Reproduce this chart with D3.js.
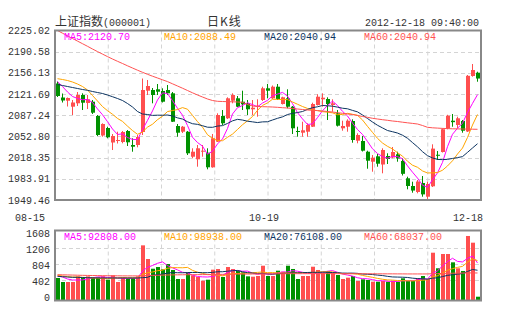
<!DOCTYPE html>
<html>
<head>
<meta charset="utf-8">
<script src="https://cdn.jsdelivr.net/npm/d3@7"></script>
<style>
  html, body { margin: 0; padding: 0; background: #fff; }
  svg { display: block; }
  text { font-family: "Liberation Mono", "DejaVu Sans Mono", monospace; font-size: 10px; fill: #333; }
</style>
</head>
<body>
<svg id="chart" width="505" height="330"></svg>
<script>
// ---- Daily K-line data, 2012-08-15 .. 2012-12-18 (上证指数) ----
const open = [2138.85,2116.09,2110.89,2101.14,2106.67,2120.16,2107.15,2109.27,2086.02,2054.32,
  2066.51,2042.94,2045.38,2043.75,2061.63,2038.87,2038.87,2060.01,2127.15,2128.29,
  2129.42,2126.66,2128.29,2122.92,2069.76,2060.50,2060.50,2019.85,2015.63,2027.98,
  2026.36,2002.62,2044.24,2086.02,2082.28,2110.89,2114.79,2109.27,2106.67,2096.91,
  2101.14,2112.03,2131.05,2114.79,2133.65,2105.53,2114.79,2101.14,2061.63,2058.87,
  2060.50,2068.62,2103.90,2113.17,2113.66,2103.90,2090.41,2066.02,2068.62,2077.89,
  2045.86,2045.38,2027.98,2011.72,2020.50,2007.17,2020.99,2018.55,2023.75,2012.86,
  1984.74,1972.22,1962.47,1977.10,1954.82,1971.73,2023.00,2027.49,2066.02,2078.38,
  2071.39,2077.89,2060.82,2151.05,2156.41];
const close = [2118.53,2111.22,2115.28,2107.97,2120.16,2107.64,2113.17,2091.38,2055.13,2073.01,
  2051.39,2053.50,2047.00,2060.01,2043.26,2036.11,2051.88,2128.29,2134.79,2120.16,
  2125.52,2109.27,2122.92,2076.75,2058.87,2068.62,2025.38,2027.98,2033.51,2029.60,
  2002.62,2049.77,2087.64,2074.15,2114.79,2120.16,2101.14,2105.04,2096.91,2099.51,
  2102.76,2131.05,2127.15,2133.65,2113.66,2116.42,2101.14,2066.02,2060.01,2062.77,
  2071.39,2105.53,2117.39,2115.77,2105.53,2106.67,2070.25,2069.76,2078.38,2047.00,
  2055.13,2029.60,2013.35,2018.23,2008.47,2030.74,2016.11,2027.49,2016.93,1992.00,
  1972.22,1964.80,1979.54,1958.60,1975.47,2033.00,2021.40,2064.50,2086.50,2076.00,
  2082.28,2062.12,2151.37,2160.80,2146.93];
const high = [2142.11,2122.60,2116.09,2112.03,2125.04,2122.92,2120.16,2112.03,2087.64,2074.15,
  2068.62,2056.76,2060.50,2061.63,2063.26,2049.77,2055.13,2146.98,2144.54,2131.54,
  2138.04,2131.05,2136.42,2125.04,2073.01,2069.76,2061.63,2033.51,2038.87,2038.87,
  2033.51,2056.76,2090.41,2095.77,2116.42,2122.92,2118.53,2127.15,2112.03,2112.03,
  2113.17,2133.65,2138.04,2135.60,2138.04,2117.39,2129.42,2102.28,2068.62,2076.75,
  2074.15,2107.64,2121.30,2122.92,2116.42,2113.17,2095.77,2078.38,2080.65,2080.65,
  2057.89,2053.50,2029.60,2022.62,2024.24,2033.51,2025.38,2035.62,2027.98,2017.25,
  1987.34,1979.21,1981.97,1988.48,1979.21,2040.01,2029.12,2066.02,2088.00,2089.27,
  2084.88,2079.52,2152.67,2170.56,2158.04];
const low = [2116.91,2107.97,2101.46,2087.64,2102.28,2095.77,2097.40,2089.27,2053.50,2052.37,
  2049.77,2030.74,2041.31,2041.64,2037.25,2027.98,2035.13,2055.13,2120.16,2106.67,
  2120.16,2107.97,2120.16,2076.26,2052.37,2058.38,2022.62,2017.25,2003.60,2019.85,
  1999.37,2001.97,2043.75,2071.39,2081.14,2106.67,2100.65,2095.77,2087.64,2087.64,
  2084.88,2110.40,2114.79,2113.66,2112.03,2104.71,2098.54,2056.76,2052.37,2052.37,
  2052.37,2068.14,2103.09,2101.14,2079.52,2093.01,2068.95,2062.12,2060.50,2042.61,
  2041.64,2028.31,2000.34,1995.47,2003.60,1992.87,2007.99,2017.25,2011.72,1989.29,
  1966.86,1961.33,1960.35,1954.82,1949.46,1970.59,2014.49,2026.68,2064.40,2068.62,
  2066.02,2058.87,2060.01,2149.91,2141.78];
const volume = [51700,42500,42500,42500,55500,53200,55500,53200,53200,55500,
  47800,57800,42500,53200,51700,51700,55500,126700,95300,73000,
  76900,71600,83800,70000,49400,49400,64700,57800,54000,45500,
  47800,70800,72300,54000,76900,72300,68500,64700,55500,54700,
  56300,79900,56300,56300,68500,66200,79900,72400,49400,56300,
  56300,77600,70100,63900,67800,63900,58600,49400,52400,56300,
  44800,48700,47100,43200,43200,44800,43200,44800,43200,51000,
  44800,44800,51000,56300,49400,109800,74000,106800,106800,87700,
  74000,67800,148200,132800,8700];

// Moving-average values before each window fills up (from the prior session history)
const ma5Lead = [2142.11,2133.98,2125.04,2117.72];
const ma10Lead = [2146.66,2145.36,2143.73,2141.29,2138.04,2133.98,2128.29,2119.35,2110.40];
const ma20Lead = [2137.23,2135.60,2133.98,2132.35,2130.73,2129.10,2127.80,2125.85,2124.22,2122.60,
  2120.16,2117.39,2114.47,2111.22,2106.34,2100.65,2093.33,2089.27,2088.46];
const ma60 = [2225.02,2220.63,2216.24,2212.01,2207.78,2203.56,2199.33,2194.94,2190.71,2186.65,
  2182.59,2178.68,2174.94,2171.37,2167.63,2164.05,2160.48,2157.06,2153.81,2150.72,
  2147.80,2144.87,2141.94,2138.37,2134.79,2131.21,2127.47,2123.74,2120.16,2116.91,
  2113.66,2111.22,2109.92,2109.59,2109.27,2109.10,2108.78,2108.29,2104.71,2102.28,
  2101.46,2101.14,2100.98,2100.65,2100.16,2099.51,2099.02,2098.21,2097.40,2096.59,
  2095.77,2095.29,2094.80,2094.15,2093.33,2092.52,2091.38,2090.41,2089.27,2088.46,
  2086.83,2085.21,2083.91,2082.28,2081.14,2080.00,2079.03,2077.89,2077.08,2075.94,
  2074.96,2073.99,2073.01,2070.57,2067.65,2066.84,2066.35,2065.86,2065.53,2065.21,
  2065.05,2064.88,2064.72,2064.56,2064.40];
const volMa5Lead = [56300,54000,49400,47100];
const volMa10Lead = [57800,56300,54700,54000,54000,53200,52400,51700,51000];
const volMa20Lead = [55600,54700,54000,53200,53200,52800,52400,52100,51700,51700,
  51700,51700,51700,51700,51700,51700,51700,52400,53200];
const volMa60 = [59300,59000,58700,58400,58100,57800,57600,57400,57200,57000,
  56900,56800,56700,56600,56500,56500,56500,57000,57400,57700,
  58000,58300,58600,58800,59000,59100,59200,59300,59400,59500,
  59600,59800,60000,60100,60300,60500,60600,60700,60800,60900,
  61000,61100,61200,61300,61400,61500,61500,61600,61600,61600,
  61600,61700,61700,61700,61700,61700,61700,61600,61600,61600,
  61500,61500,61400,61400,61300,61300,61200,61200,61100,61100,
  61000,61000,61000,61000,61000,61500,61800,62200,62500,62700,
  62900,63000,63200,63400,63200];

const priceTicks = ["2225.02","2190.58","2156.13","2121.69","2087.24","2052.80","2018.35","1983.91","1949.46"];
const volTicks = ["1608","1206","804","402","0"];
const dateLabels = ["08-15","10-19","12-18"];
const dateIndex = [0, 42, 84];
const priceLegend = ["MA5:2120.70","MA10:2088.49","MA20:2040.94","MA60:2040.94"];
const volLegend = ["MA5:92808.00","MA10:98938.00","MA20:76108.00","MA60:68037.00"];
const maColors = ["#ff00ff","#ffa500","#0c3461","#ff5252"];

// ---- layout ----
const svg = d3.select("#chart");
const L = 55, R = 481, T = 30.5, B = 200, VT = 230.5, VB = 300.5;
const UP = "#ff4f4f", DOWN = "#009100";
const n = close.length;

function movingAvg(arr, w, lead) {
  return arr.map((_, i) => i < w - 1 ? lead[i] : d3.mean(arr.slice(i - w + 1, i + 1)));
}
const ma5 = movingAvg(close, 5, ma5Lead), ma10 = movingAvg(close, 10, ma10Lead), ma20 = movingAvg(close, 20, ma20Lead);
const vma5 = movingAvg(volume, 5, volMa5Lead), vma10 = movingAvg(volume, 10, volMa10Lead), vma20 = movingAvg(volume, 20, volMa20Lead);

const x = d3.scaleLinear().domain([0, n - 1]).range([57.5, 57.5 + 5 * (n - 1)]);
const y = d3.scaleLinear().domain([+priceTicks[priceTicks.length - 1], +priceTicks[0]]).range([B, T]);
const yv = d3.scaleLinear().domain([0, +volTicks[0] * 100]).range([VB, VT]);
// volume tick labels sit slightly inside the panel so the end labels stay clear of the frame
const yvLabel = d3.scaleLinear().domain(yv.domain()).range([VB - 3, VT + 3]);

const defs = svg.append("defs");
defs.append("clipPath").attr("id", "clipP").append("rect").attr("x", L).attr("y", T).attr("width", R - L).attr("height", B - T);
defs.append("clipPath").attr("id", "clipV").append("rect").attr("x", L).attr("y", VT).attr("width", R - L).attr("height", VB - VT);

// ---- header ----
const head = svg.append("text").attr("x", L).attr("y", 26);
head.append("tspan").style("font-family", "'Noto Sans CJK SC'").style("font-size", "12px").text("上证指数");
head.append("tspan").text("(000001)");
svg.append("text").attr("x", 207).attr("y", 26).style("font-family", "'Noto Sans CJK SC'").style("font-size", "12px")
  .style("letter-spacing", "1px").text("日K线");
svg.append("text").attr("x", 479).attr("y", 26).attr("text-anchor", "end").text("2012-12-18 09:40:00");

// ---- grids ----
const vGridX = d3.range(1, 8).map(k => L + k * (R - L) / 8);
function grid(top, bottom, ys) {
  const g = svg.append("g").attr("stroke", "#d4d4d4").attr("stroke-dasharray", "4,3").attr("stroke-width", 1);
  g.selectAll(".v").data(vGridX).join("line").attr("x1", d => d).attr("x2", d => d).attr("y1", top).attr("y2", bottom);
  g.selectAll(".h").data(ys).join("line").attr("x1", L).attr("x2", R).attr("y1", d => d).attr("y2", d => d);
}
grid(T, B, priceTicks.slice(1, -1).map(d => Math.round(y(+d)) + 0.5));
grid(VT, VB, volTicks.slice(1, -1).map(d => Math.round(yvLabel(+d * 100)) - 1.5));

// ---- axis labels ----
svg.append("g").selectAll("text").data(priceTicks).join("text")
  .attr("x", 50).attr("y", d => y(+d)).attr("dy", "0.35em").attr("text-anchor", "end").text(d => d);
svg.append("g").selectAll("text").data(volTicks).join("text")
  .attr("x", 50).attr("y", d => yvLabel(+d * 100)).attr("dy", "0.35em").attr("text-anchor", "end").text(d => d);
const dateX = [x(dateIndex[0]) - 12.5, x(dateIndex[1]) - 3.5, x(dateIndex[2]) + 5.5];
const dateAnchor = ["end", "middle", "end"];
svg.append("g").selectAll("text").data(dateLabels).join("text")
  .attr("x", (d, i) => dateX[i]).attr("y", 220.5).attr("text-anchor", (d, i) => dateAnchor[i]).text(d => d);

// ---- candles ----
const cg = svg.append("g").attr("clip-path", "url(#clipP)");
const idx = d3.range(n);
const col = i => close[i] >= open[i] ? UP : DOWN;
cg.selectAll(".wick").data(idx).join("rect")
  .attr("x", i => x(i) - 0.5).attr("width", 1)
  .attr("y", i => y(high[i])).attr("height", i => Math.max(1, y(low[i]) - y(high[i])))
  .attr("fill", col);
cg.selectAll(".body").data(idx).join("rect")
  .attr("x", i => x(i) - 1.5).attr("width", 4)
  .attr("y", i => y(Math.max(open[i], close[i])))
  .attr("height", i => Math.max(1, Math.abs(y(open[i]) - y(close[i]))))
  .attr("fill", col);

const line = d3.line().x((d, i) => x(i)).y(d => y(d));
[ma5, ma10, ma20, ma60].forEach((s, k) => {
  cg.append("path").datum(s).attr("d", line).attr("fill", "none").attr("stroke", maColors[k]).attr("stroke-width", 1);
});

// ---- volume ----
const vg = svg.append("g").attr("clip-path", "url(#clipV)");
vg.selectAll(".vol").data(idx).join("rect")
  .attr("x", i => x(i) - 1.5).attr("width", 4)
  .attr("y", i => yv(volume[i])).attr("height", i => VB - yv(volume[i]))
  .attr("fill", col);
const vline = d3.line().x((d, i) => x(i)).y(d => yv(d));
[vma5, vma10, vma20, volMa60].forEach((s, k) => {
  vg.append("path").datum(s).attr("d", vline).attr("fill", "none").attr("stroke", maColors[k]).attr("stroke-width", 1);
});

// ---- legends ----
const legX = [64, 164, 264, 364];
svg.append("g").selectAll("text").data(priceLegend).join("text")
  .attr("x", (d, i) => legX[i]).attr("y", 40).style("fill", (d, i) => maColors[i]).text(d => d);
svg.append("g").selectAll("text").data(volLegend).join("text")
  .attr("x", (d, i) => legX[i]).attr("y", 239.5).style("fill", (d, i) => maColors[i]).text(d => d);

// ---- frames ----
svg.append("rect").attr("x", L).attr("y", T).attr("width", R - L).attr("height", B - T)
  .attr("fill", "none").attr("stroke", "#888").attr("stroke-width", 2);
svg.append("rect").attr("x", L).attr("y", VT).attr("width", R - L).attr("height", VB - VT)
  .attr("fill", "none").attr("stroke", "#888").attr("stroke-width", 2);
</script>
</body>
</html>
